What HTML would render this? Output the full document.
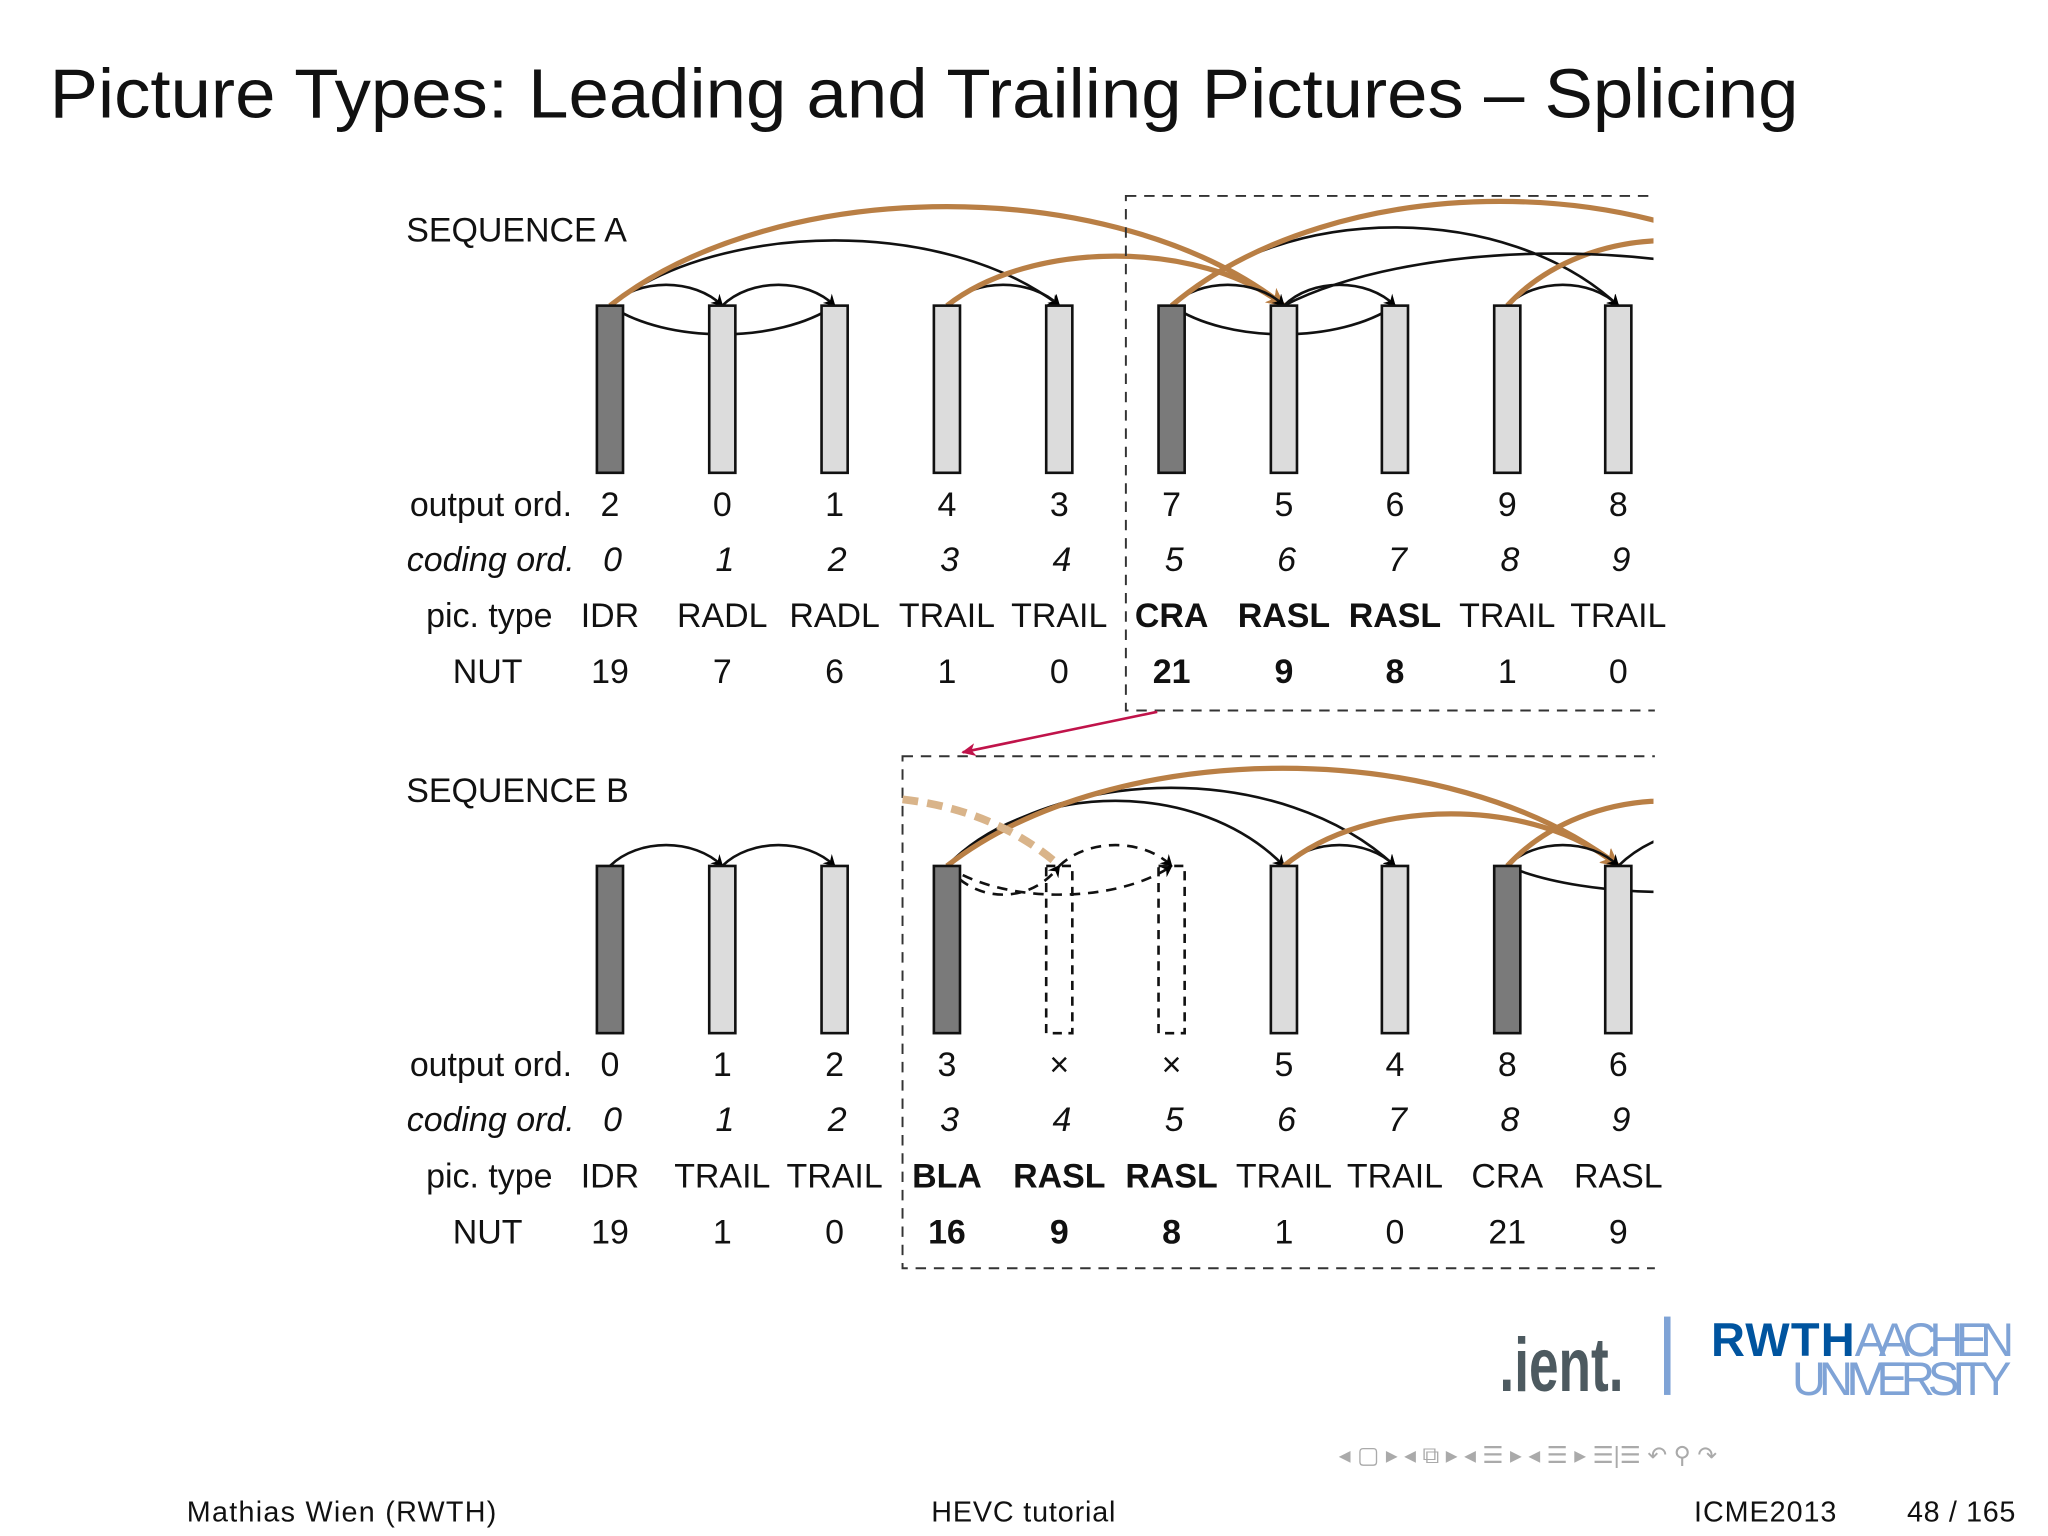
<!DOCTYPE html>
<html><head><meta charset="utf-8"><style>
html,body{margin:0;padding:0;background:#fff}
svg{display:block}
text{font-family:"Liberation Sans","DejaVu Sans",sans-serif;fill:#111}
</style></head><body>
<svg id="s" width="2048" height="1536" viewBox="0 0 1568 1176">
<defs>
<marker id="ab" markerWidth="10" markerHeight="10" refX="8" refY="5" orient="auto" markerUnits="userSpaceOnUse"><path d="M0,0 L9,5 L0,10 L3,5z" fill="#000"/></marker>
<marker id="ao" markerWidth="16" markerHeight="14" refX="13" refY="7" orient="auto" markerUnits="userSpaceOnUse"><path d="M0,0 L14,7 L0,14 L4,7z" fill="#b97f45"/></marker>
<marker id="ar" markerWidth="12" markerHeight="10" refX="10" refY="5" orient="auto" markerUnits="userSpaceOnUse"><path d="M0,0 L11,5 L0,10 L3,5z" fill="#c0134a"/></marker>
<clipPath id="clip"><rect x="0" y="0" width="1266" height="1176"/></clipPath>
</defs>
<text x="38" y="90" font-size="53" textLength="1339" lengthAdjust="spacingAndGlyphs">Picture Types: Leading and Trailing Pictures – Splicing</text>
<text x="311" y="185" font-size="26">SEQUENCE A</text>
<text x="311" y="614" font-size="26">SEQUENCE B</text>
<g id="g" clip-path="url(#clip)"></g>
<rect x="862" y="150" width="420" height="394" fill="none" stroke="#333" stroke-width="1.5" stroke-dasharray="8,6"/>
<rect x="691" y="579" width="590" height="392" fill="none" stroke="#333" stroke-width="1.5" stroke-dasharray="8,6"/>
<rect x="1267" y="140" width="301" height="840" fill="#fff"/>
<line x1="886" y1="545" x2="737" y2="576" stroke="#c0134a" stroke-width="2" marker-end="url(#ar)"/>
<g><text x="1148" y="1065" font-size="58" font-weight="bold" textLength="95" lengthAdjust="spacingAndGlyphs" style="fill:#4d5a60">.ient.</text></g>
<rect x="1274" y="1008" width="5" height="60" fill="#7fa3d6"/>
<g>
<text x="1310" y="1038" font-size="36" font-weight="bold" style="fill:#00549f" textLength="110">RWTH</text>
<text x="1420" y="1038" font-size="36" style="fill:#7fa3d6" textLength="122">AACHEN</text>
<text x="1372" y="1068" font-size="36" style="fill:#7fa3d6" textLength="168">UNIVERSITY</text></g>
<text x="1025" y="1120" font-size="18" style="fill:#aaa">◂ ▢ ▸ ◂ ⧉ ▸ ◂ ☰ ▸ ◂ ☰ ▸ ☰|☰ ↶ ⚲ ↷</text>
<text x="143" y="1165" font-size="22" textLength="237">Mathias Wien  (RWTH)</text>
<text x="713" y="1165" font-size="22" textLength="141">HEVC tutorial</text>
<text x="1297" y="1165" font-size="22" textLength="109">ICME2013</text>
<text x="1460" y="1165" font-size="22" textLength="83">48 / 165</text>
</svg>
<script>
const xs=[467,553,639,725,811,897,983,1068,1154,1239];
const outA=["2","0","1","4","3","7","5","6","9","8"];
const codA=["0","1","2","3","4","5","6","7","8","9"];
const typA=["IDR","RADL","RADL","TRAIL","TRAIL","CRA","RASL","RASL","TRAIL","TRAIL"];
const nutA=["19","7","6","1","0","21","9","8","1","0"];
const boldA=[0,0,0,0,0,1,1,1,0,0];
const barA=["d","l","l","l","l","d","l","l","l","l"];
const outB=["0","1","2","3","×","×","5","4","8","6"];
const codB=["0","1","2","3","4","5","6","7","8","9"];
const typB=["IDR","TRAIL","TRAIL","BLA","RASL","RASL","TRAIL","TRAIL","CRA","RASL"];
const nutB=["19","1","0","16","9","8","1","0","21","9"];
const boldB=[0,0,0,1,1,1,0,0,0,0];
const barB=["d","l","l","d","x","x","l","l","d","l"];
const NS="http://www.w3.org/2000/svg";
const s=document.getElementById('s'),g=document.getElementById('g');
function el(t,a,p){const e=document.createElementNS(NS,t);for(const k in a)e.setAttribute(k,a[k]);(p||s).appendChild(e);return e;}
function txt(x,y,str,o){const e=el('text',Object.assign({x:x,y:y,'font-size':26,'text-anchor':'middle'},o||{}));e.textContent=str;return e;}
function seq(top,bars,out,cod,typ,nut,bold,nm){
 const rowY=[top+161,top+203,top+246,top+289];
 let e;
 e=txt(438,rowY[0],"output ord.",{'text-anchor':'end'});
 
 
 e=txt(440,rowY[1],"coding ord.",{'text-anchor':'end','font-style':'italic'});
 
 
 e=txt(423,rowY[2],"pic. type",{'text-anchor':'end'});
 
 
 e=txt(400,rowY[3],"NUT",{'text-anchor':'end'});
 
 
 xs.forEach((x,i)=>{
  const b=bars[i];
  const r=el('rect',{x:x-10,y:top,width:20,height:128,fill:b=='d'?'#7a7a7a':b=='l'?'#dcdcdc':'none',stroke:'#111','stroke-width':2,'stroke-dasharray':b=='x'?'7,5':'none'});
  
  
  const fw=bold[i]?'bold':'normal';
  e=txt(x,rowY[0],out[i]);
  e=txt(x+2,rowY[1],cod[i],{'font-style':'italic'});
  e=txt(x,rowY[2],typ[i],{'font-weight':fw});
  e=txt(x,rowY[3],nut[i],{'font-weight':fw});
 });
}
seq(234,barA,outA,codA,typA,nutA,boldA,'seq-a');
seq(663,barB,outB,codB,typB,nutB,boldB,'seq-b');
function arc(a,b,top,h,kind,dash){
 const x1=xs[a],x2=b<xs.length?xs[b]:1400;
 const y=top, cy=y-h*1.33;
 const p=el('path',{d:`M${x1},${y} C${x1+(x2-x1)*0.25},${cy} ${x1+(x2-x1)*0.75},${cy} ${x2},${y}`,fill:'none',
  stroke:kind=='o'?'#b97f45':'#111','stroke-width':kind=='o'?4:2,'stroke-dasharray':dash?'8,6':'none',
  'marker-end':kind=='o'?'url(#ao)':'url(#ab)'},g);
 
 
}
arc(0,1,234,16,'b');arc(1,2,234,16,'b');arc(0,2,234,-22,'b');arc(0,4,234,50,'b');arc(3,4,234,16,'b');
arc(0,6,234,76,'o');arc(3,6,234,38,'o');
arc(5,6,234,16,'b');arc(6,7,234,16,'b');arc(5,7,234,-22,'b');arc(5,9,234,60,'b');arc(8,9,234,16,'b');
arc(5,10,234,80,'o');arc(8,10,234,50,'o');arc(6,10,234,40,'b');
arc(0,1,663,16,'b');arc(1,2,663,16,'b');
arc(3,4,663,-22,'b',true);arc(4,5,663,16,'b',true);arc(3,5,663,-22,'b',true);
arc(3,6,663,50,'b');arc(3,7,663,60,'b');arc(6,7,663,16,'b');
arc(3,9,663,75,'o');arc(6,9,663,40,'o');arc(8,9,663,16,'b');arc(8,10,663,50,'o');arc(8,10,663,-20,'b');arc(9,10,663,30,'b');
const d=el('path',{d:'M691,612 Q760,620 808,660',fill:'none',stroke:'#d9b48a','stroke-width':6,'stroke-dasharray':'12,7'});


</script>
</body></html>
